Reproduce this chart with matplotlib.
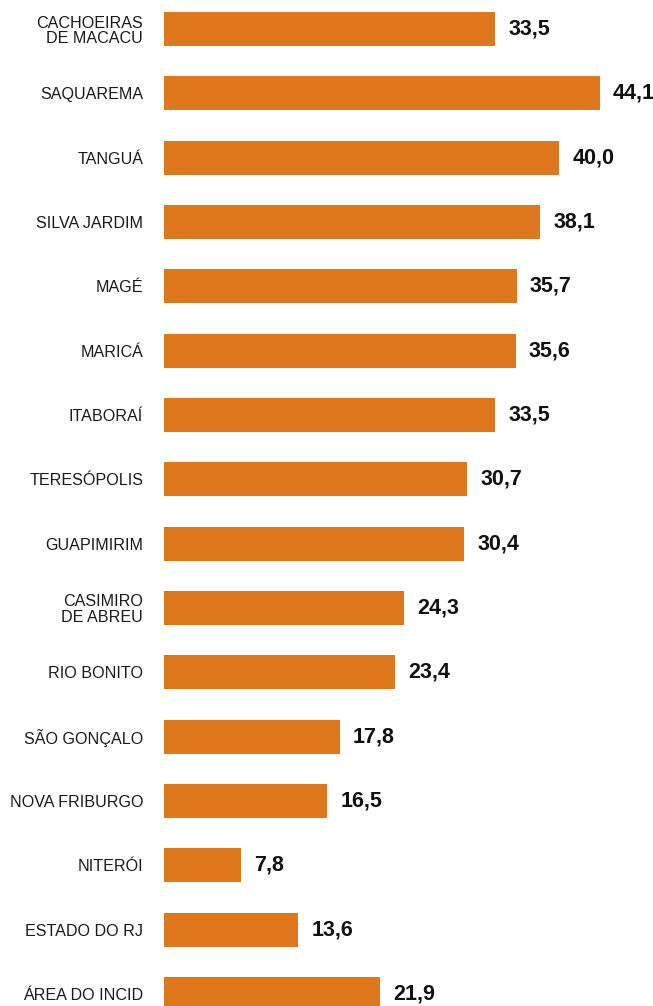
import matplotlib
matplotlib.use("Agg")
import matplotlib.pyplot as plt
from matplotlib import font_manager

municipios = [
    "CACHOEIRAS\nDE MACACU", "SAQUAREMA", "TANGUÁ", "SILVA JARDIM", "MAGÉ",
    "MARICÁ", "ITABORAÍ", "TERESÓPOLIS", "GUAPIMIRIM", "CASIMIRO\nDE ABREU",
    "RIO BONITO", "SÃO GONÇALO", "NOVA FRIBURGO", "NITERÓI",
    "ESTADO DO RJ", "ÁREA DO INCID",
]
valores = [33.5, 44.1, 40.0, 38.1, 35.7, 35.6, 33.5, 30.7, 30.4, 24.3,
           23.4, 17.8, 16.5, 7.8, 13.6, 21.9]

names = {f.name for f in font_manager.fontManager.ttflist}
narrow = "Liberation Sans Narrow" if "Liberation Sans Narrow" in names else "Liberation Sans"

W, H, DPI = 653, 1006, 100
fig = plt.figure(figsize=(W / DPI, H / DPI), dpi=DPI)
left_px = 164
px_per_unit = 9.88
ax = fig.add_axes([left_px / W, 0, 1 - left_px / W, 1])

pos = list(range(len(valores)))
bars = ax.barh(pos, valores, height=0.53, color="#DF771D", edgecolor="none")

step = 64.33
first_center = 29
ax.set_ylim((H - first_center) / step, -first_center / step)
ax.set_xlim(0, (W - left_px) / px_per_unit)

ax.set_yticks(pos)
ax.set_yticklabels(municipios, fontsize=11.6, family="Liberation Sans",
                   color="#1a1a1a", linespacing=1.05)
ax.tick_params(axis="y", length=0, pad=15)
ax.set_xticks([])
for s in ax.spines.values():
    s.set_visible(False)

rotulos = [f"{v:.1f}".replace(".", ",") for v in valores]
ax.bar_label(bars, labels=rotulos, padding=9.5, fontsize=15.5,
             fontweight="bold", family=narrow, color="#111111")

fig.savefig("out.png", dpi=DPI)
